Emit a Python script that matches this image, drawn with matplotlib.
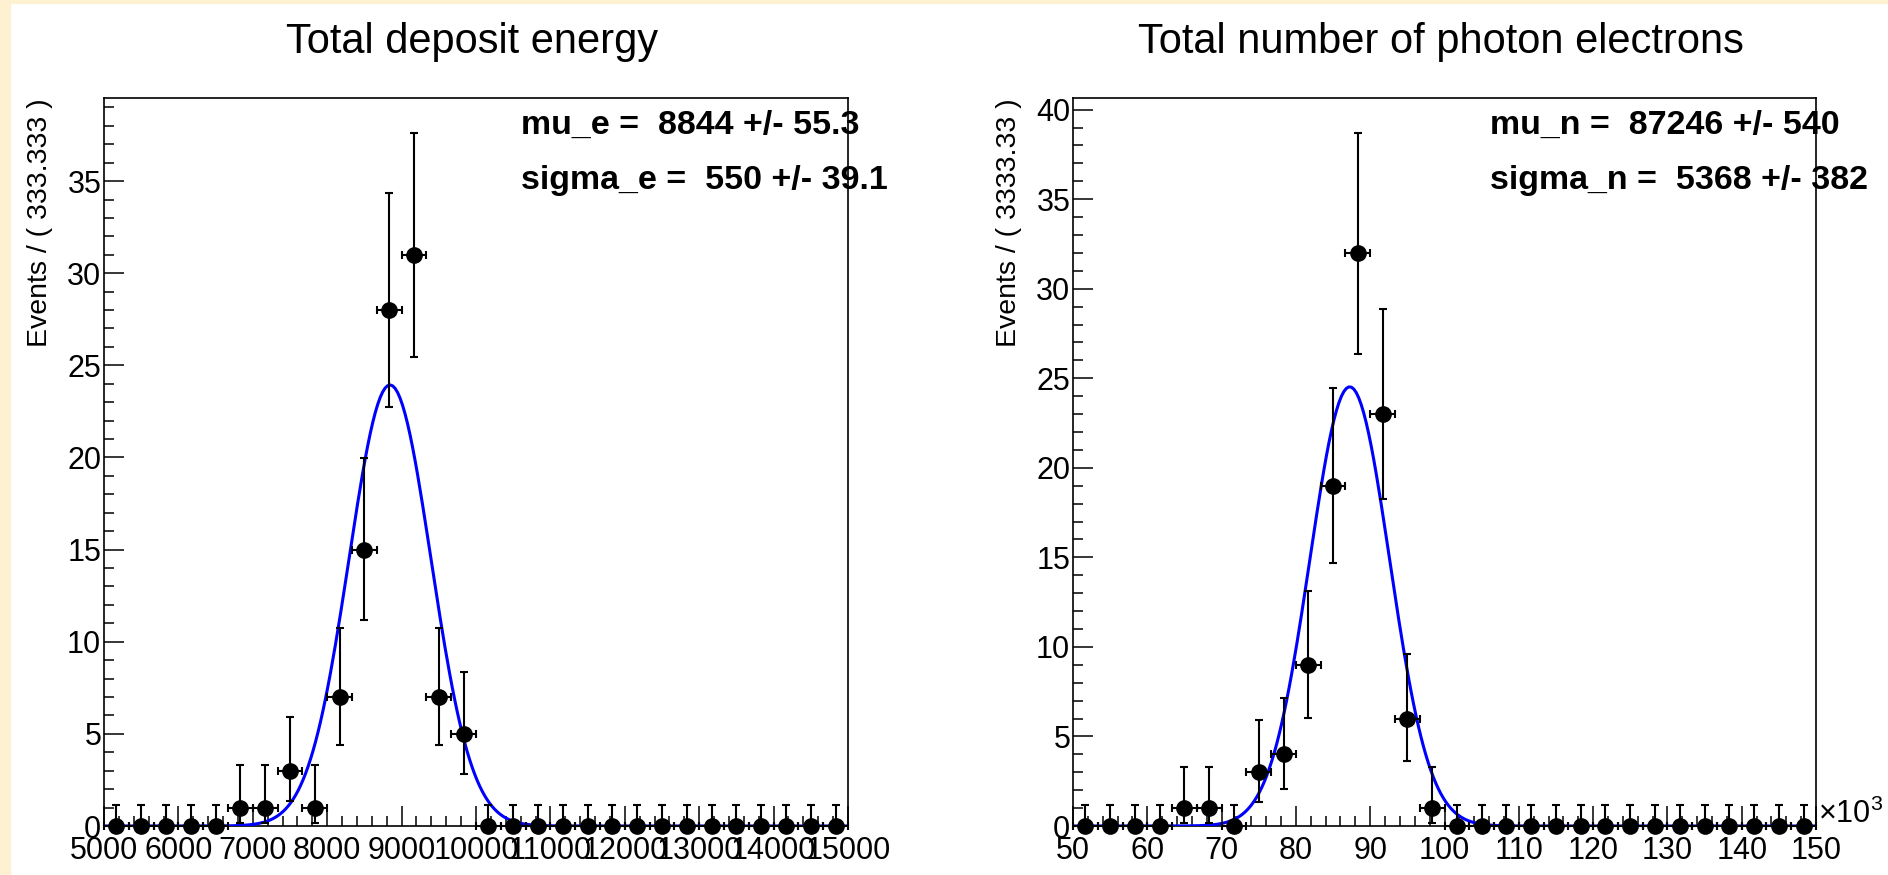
import math
import numpy as np
import matplotlib
matplotlib.use("Agg")
import matplotlib.pyplot as plt
from matplotlib.patches import Rectangle
from matplotlib.ticker import MultipleLocator, FuncFormatter

plt.rcParams['font.family'] = ['Liberation Sans', 'DejaVu Sans']
plt.rcParams['mathtext.fontset'] = 'custom'
plt.rcParams['mathtext.rm'] = 'Liberation Sans'

# binning of the two histograms
e_range = (5000, 15000)
n_range = (50000, 150000)
nbins = 30

# counts per bin
e_counts = [0, 0, 0, 0, 0, 1, 1, 3, 1, 7, 15, 28, 31, 7, 5,
            0, 0, 0, 0, 0, 0, 0, 0, 0, 0, 0, 0, 0, 0, 0]
n_counts = [0, 0, 0, 0, 1, 1, 0, 3, 4, 9, 19, 32, 23, 6, 1,
            0, 0, 0, 0, 0, 0, 0, 0, 0, 0, 0, 0, 0, 0, 0]

# gaussian fit results
mu_e, mu_e_err = 8844, 55.3
sigma_e, sigma_e_err = 550, 39.1
mu_n, mu_n_err = 87246, 540
sigma_n, sigma_n_err = 5368, 382

W, H = 1888, 875
TICK_FS = 22


def pois_cdf(k, mu):
    term = math.exp(-mu)
    s = term
    for i in range(1, k + 1):
        term *= mu / i
        s += term
    return s


def solve_mu(k, target):
    # pois_cdf is decreasing in mu
    lo, hi = 0.0, k + 60.0
    for _ in range(100):
        mid = 0.5 * (lo + hi)
        if pois_cdf(k, mid) > target:
            lo = mid
        else:
            hi = mid
    return 0.5 * (lo + hi)


def poisson_errors(counts):
    alpha = 1 - 0.682689492
    lo, hi = [], []
    for n in counts:
        if n == 0:
            lo.append(0.0)
            hi.append(solve_mu(0, alpha))
        else:
            lo.append(n - solve_mu(n - 1, 1 - alpha / 2))
            hi.append(solve_mu(n, alpha / 2) - n)
    return np.array(lo), np.array(hi)


def draw_panel(ax, counts, xr, mu, sigma, major, minor):
    counts = np.array(counts)
    width = (xr[1] - xr[0]) / nbins
    centers = xr[0] + width * (np.arange(nbins) + 0.5)
    lo, hi = poisson_errors(counts)

    x = np.linspace(xr[0], xr[1], 300)
    norm = counts.sum() * width / (math.sqrt(2 * math.pi) * sigma)
    ax.plot(x, norm * np.exp(-0.5 * ((x - mu) / sigma) ** 2),
            color='#0000ff', lw=2.2, zorder=3)

    ax.errorbar(centers, counts, xerr=width / 2, yerr=[lo, hi], fmt='o',
                color='black', ms=11, elinewidth=1.5, capsize=3.2,
                capthick=1.5, zorder=4, clip_on=False)

    ax.set_xlim(*xr)
    ax.set_ylim(0, 1.05 * max(counts + hi))
    ax.xaxis.set_major_locator(MultipleLocator(major))
    ax.xaxis.set_minor_locator(MultipleLocator(minor))
    ax.yaxis.set_major_locator(MultipleLocator(5))
    ax.yaxis.set_minor_locator(MultipleLocator(1))
    ax.tick_params(which='both', direction='in', top=False, right=False,
                   labelsize=TICK_FS, width=1.1)
    ax.tick_params(axis='x', which='both', pad=7)
    ax.tick_params(axis='y', which='both', pad=2)
    ax.tick_params(which='major', length=14.5)
    ax.tick_params(which='minor', length=7.2)
    for sp in ax.spines.values():
        sp.set_linewidth(1.2)


fig = plt.figure(figsize=(W / 100, H / 100), dpi=100)
fig.patch.set_facecolor('white')
cream = '#fdf1d2'
fig.add_artist(Rectangle((0, 0), 10 / W, 1, transform=fig.transFigure,
                         color=cream, zorder=0))
fig.add_artist(Rectangle((0, 1 - 3 / H), 1, 3 / H, transform=fig.transFigure,
                         color=cream, zorder=0))

bottom = (H - 826) / H
height = (826 - 98) / H
ax1 = fig.add_axes([104 / W, bottom, 744 / W, height])
ax2 = fig.add_axes([1073 / W, bottom, 743 / W, height])

draw_panel(ax1, e_counts, e_range, mu_e, sigma_e, 1000, 200)
draw_panel(ax2, n_counts, n_range, mu_n, sigma_n, 10000, 2000)
ax2.xaxis.set_major_formatter(FuncFormatter(lambda v, p: '%d' % round(v / 1000)))
ax1.xaxis.set_major_formatter(FuncFormatter(lambda v, p: '%d' % round(v)))

ax1.set_ylabel('Events / ( 333.333 )', fontsize=20.5, loc='top', labelpad=10)
ax2.set_ylabel('Events / ( 3333.33 )', fontsize=20.5, loc='top', labelpad=10)

ax2.text(1.003, 0.004, r'$\times10^{3}$', transform=ax2.transAxes,
         fontsize=22, ha='left', va='baseline')

for ax, title in [(ax1, 'Total deposit energy'),
                  (ax2, 'Total number of photon electrons')]:
    pos = ax.get_position()
    fig.text(pos.x0 + pos.width / 2 - 4 / W, 1 - 42 / H, title,
             fontsize=30, ha='center', va='center')

stats = [
    (ax1, 521, ['mu_e =  %d +/- %.1f' % (mu_e, mu_e_err),
                'sigma_e =  %d +/- %.1f' % (sigma_e, sigma_e_err)]),
    (ax2, 1490, ['mu_n =  %d +/- %d' % (mu_n, mu_n_err),
                 'sigma_n =  %d +/- %d' % (sigma_n, sigma_n_err)]),
]
for ax, x0, lines in stats:
    for i, line in enumerate(lines):
        fig.text(x0 / W, 1 - (125 + 55 * i) / H, line, fontsize=24.5,
                 fontweight='bold', ha='left', va='center', zorder=10)

fig.savefig('out.png', dpi=100)
